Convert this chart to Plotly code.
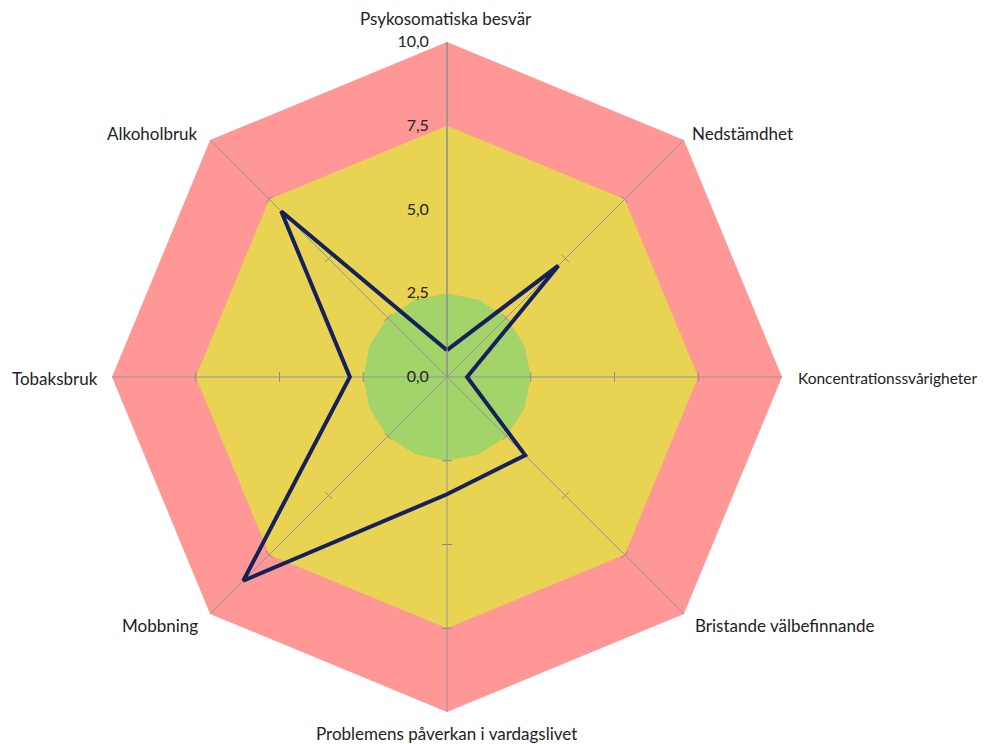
import plotly.graph_objects as go

categories = ["Psykosomatiska besvär", "Nedstämdhet", "Koncentrationssvårigheter",
              "Bristande välbefinnande", "Problemens påverkan i vardagslivet",
              "Mobbning", "Tobaksbruk", "Alkoholbruk"]
values = [0.8, 4.7, 0.6, 3.3, 3.5, 8.6, 2.9, 7.0]
radial_ticks = [0, 2.5, 5, 7.5, 10]
radial_ticktext = ["0,0", "2,5", "5,0", "7,5", "10,0"]
band_red = 10
band_yellow = 7.5
band_green = 2.5

n = len(categories)
step = 360 / n
angles = [i * step for i in range(n)]

W, H = 991, 744
ML, MR, MT, MB = 104, 217, 34, 40
PW, PH = W - ML - MR, H - MT - MB
OFF = 8  # page body margin

fig = go.Figure()

# background bands
oct_theta = angles + [angles[0]]
fig.add_trace(go.Scatterpolar(r=[band_red] * (n + 1), theta=oct_theta, mode="lines",
                              fill="toself", fillcolor="#FF9797", line=dict(width=0, color="#FF9797"),
                              hoverinfo="skip", showlegend=False))
fig.add_trace(go.Scatterpolar(r=[band_yellow] * (n + 1), theta=oct_theta, mode="lines",
                              fill="toself", fillcolor="#E8D352", line=dict(width=0, color="#E8D352"),
                              hoverinfo="skip", showlegend=False))
g_theta = [i * step / 2 for i in range(2 * n)] + [0]
fig.add_trace(go.Scatterpolar(r=[band_green] * (2 * n + 1), theta=g_theta, mode="lines",
                              fill="toself", fillcolor="#A2D46A", line=dict(width=0, color="#A2D46A"),
                              hoverinfo="skip", showlegend=False))

# spokes (drawn above the coloured bands)
spoke_r, spoke_t = [], []
for a in angles:
    spoke_r += [0, radial_ticks[-1], None]
    spoke_t += [a, a, None]
fig.add_trace(go.Scatterpolar(r=spoke_r, theta=spoke_t, mode="lines",
                              line=dict(color="#959595", width=1),
                              hoverinfo="skip", showlegend=False))

# small tick marks on each spoke
tick_r, tick_t = [], []
for a in angles[1:]:
    for rv in radial_ticks[1:-1]:
        tick_r.append(rv)
        tick_t.append(a)
fig.add_trace(go.Scatterpolar(r=tick_r, theta=tick_t, mode="markers",
                              marker=dict(symbol="line-ew", size=7, angle=tick_t,
                                          line=dict(width=1, color="#8a8a8a")),
                              hoverinfo="skip", showlegend=False))

# data line
fig.add_trace(go.Scatterpolar(r=values + [values[0]], theta=angles + [angles[0]], mode="lines",
                              line=dict(color="#16205A", width=4), showlegend=False))

# category labels placed outside the octagon (pixel positions -> paper coordinates)
label_pos = [
    (446, 18, "center", 17), (690, 133, "left", 17), (796, 378, "left", 15.5),
    (693, 625, "left", 17), (446, 733, "center", 17), (200, 625, "right", 17),
    (100, 378, "right", 17), (200, 133, "right", 17),
]
for cat, (px, py, anchor, fs) in zip(categories, label_pos):
    fig.add_annotation(text=cat, x=(px - OFF - ML) / PW, y=1 - (py - OFF - MT) / PH,
                       xref="paper", yref="paper",
                       xanchor=anchor, yanchor="middle", showarrow=False,
                       font=dict(size=fs, color="#222222"))

fig.update_layout(
    width=W, height=H,
    paper_bgcolor="white",
    margin=dict(l=ML, r=MR, t=MT, b=MB),
    font=dict(family="Lato, Liberation Sans, sans-serif", size=16, color="#222222"),
    polar=dict(
        bgcolor="rgba(0,0,0,0)",
        radialaxis=dict(range=[0, 10], tickvals=radial_ticks, ticktext=radial_ticktext,
                        angle=90, tickangle=90, side="counterclockwise", showgrid=False, showline=True,
                        linecolor="#8a8a8a", linewidth=1, ticks="outside", ticklen=12,
                        tickcolor="rgba(0,0,0,0)", layer="above traces",
                        tickfont=dict(size=16, color="#222222")),
        angularaxis=dict(tickmode="array", tickvals=angles, ticktext=categories,
                         showticklabels=False,
                         direction="clockwise", rotation=90, showline=False,
                         showgrid=False, ticks=""),
    ),
)

fig.write_html("out.html")
